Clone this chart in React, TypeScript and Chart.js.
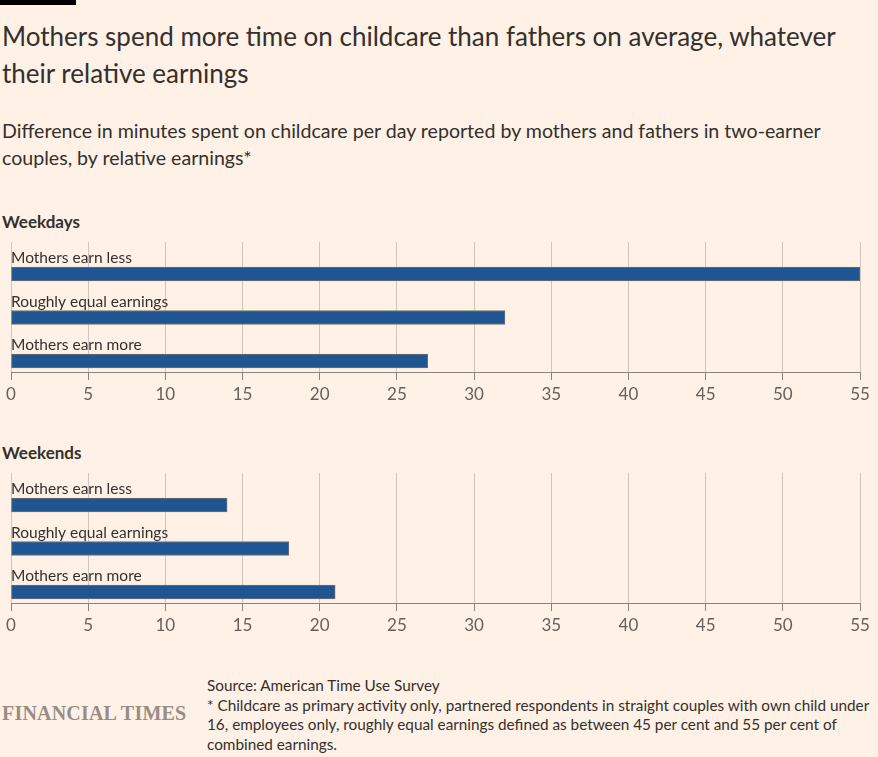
import { useEffect, useRef } from "react";
import { Chart, registerables } from "chart.js";

Chart.register(...registerables);

const CATEGORIES = ["Mothers earn less", "Roughly equal earnings", "Mothers earn more"];
const WEEKDAY_VALUES = [55, 32, 27];
const WEEKEND_VALUES = [14, 18, 21];
const X_TICKS = [0, 5, 10, 15, 20, 25, 30, 35, 40, 45, 50, 55];

const FONT = "Lato, 'Noto Sans', sans-serif";
const BG = "#fff1e5";
const TEXT = "#33302e";
const MUTED = "#66605c";

// draws each category name just above its bar
const barLabels = {
  id: "barLabels",
  afterDatasetsDraw(chart: Chart) {
    const { ctx, chartArea, scales } = chart;
    const y = scales.y;
    ctx.save();
    ctx.font = `15.5px ${FONT}`;
    ctx.fillStyle = TEXT;
    ctx.textBaseline = "alphabetic";
    ctx.textAlign = "left";
    CATEGORIES.forEach((c, i) => {
      ctx.fillText(c, chartArea.left, y.getPixelForValue(i) - 11);
    });
    ctx.restore();
  },
};

function Panel({ values, top }: { values: number[]; top: number }) {
  const canvasRef = useRef<HTMLCanvasElement>(null);

  useEffect(() => {
    if (!canvasRef.current) return;
    const chart = new Chart(canvasRef.current, {
      type: "bar",
      data: {
        datasets: [{
          data: values.map((v, i) => ({ x: v, y: i })),
          backgroundColor: "#1f5591",
          borderColor: "#707070",
          borderWidth: 1,
          borderSkipped: false,
          barThickness: 14,
        }],
      },
      options: {
        indexAxis: "y",
        responsive: false,
        animation: false,
        layout: { padding: { left: 11, right: 18, top: 2, bottom: 0 } },
        plugins: { legend: { display: false }, tooltip: { enabled: false } },
        scales: {
          y: { type: "linear", display: false, offset: false, reverse: true, min: -0.736, max: 2.253 },
          x: {
            type: "linear",
            min: 0,
            max: 55,
            afterBuildTicks: (s: any) => { s.ticks = X_TICKS.map((v) => ({ value: v })); },
            afterFit: (s: any) => { s.height = 38; },
            grid: { color: "#cfc5bc", tickColor: "#8a847f", tickLength: 8 },
            border: { display: true, color: "#8a847f" },
            ticks: { color: MUTED, font: { family: FONT, size: 17 }, padding: 4, maxRotation: 0 },
          },
        },
      },
      plugins: [barLabels],
    });
    return () => chart.destroy();
  }, [values]);

  return (
    <canvas
      ref={canvasRef}
      width={878}
      height={170}
      style={{ position: "absolute", left: 0, top, width: 878, height: 170, display: "block" }}
    />
  );
}

export default function App() {
  document.body.style.margin = "0";
  return (
    <div style={{ position: "relative", width: 878, height: 757, background: BG, fontFamily: FONT, color: TEXT, overflow: "hidden" }}>
      <div style={{ position: "absolute", left: 0, top: 0, width: 76, height: 5, background: "#000" }} />
      <div style={{ position: "absolute", left: 2, top: 18, width: 876, fontSize: 26, lineHeight: "37px", whiteSpace: "nowrap" }}>
        Mothers spend more time on childcare than fathers on average, whatever<br />their relative earnings
      </div>
      <div style={{ position: "absolute", left: 2, top: 117, width: 876, fontSize: 19.6, lineHeight: "27px", whiteSpace: "nowrap" }}>
        Difference in minutes spent on childcare per day reported by mothers and fathers in two-earner<br />couples, by relative earnings*
      </div>
      <div style={{ position: "absolute", left: 2, top: 212, fontSize: 17, fontWeight: 700, lineHeight: "20px" }}>Weekdays</div>
      <Panel values={WEEKDAY_VALUES} top={240} />
      <div style={{ position: "absolute", left: 2, top: 443, fontSize: 17, fontWeight: 700, lineHeight: "20px" }}>Weekends</div>
      <Panel values={WEEKEND_VALUES} top={471} />
      <div style={{ position: "absolute", left: 2, top: 700, fontFamily: "'Liberation Serif', serif", fontSize: 20, fontWeight: 700, letterSpacing: 0.2, lineHeight: "26px", color: "#958d86", whiteSpace: "nowrap" }}>
        FINANCIAL TIMES
      </div>
      <div style={{ position: "absolute", left: 207, top: 676, fontSize: 15.3, lineHeight: "19.7px", whiteSpace: "nowrap" }}>
        Source: American Time Use Survey<br />
        * Childcare as primary activity only, partnered respondents in straight couples with own child under<br />
        16, employees only, roughly equal earnings defined as between 45 per cent and 55 per cent of<br />
        combined earnings.
      </div>
    </div>
  );
}
